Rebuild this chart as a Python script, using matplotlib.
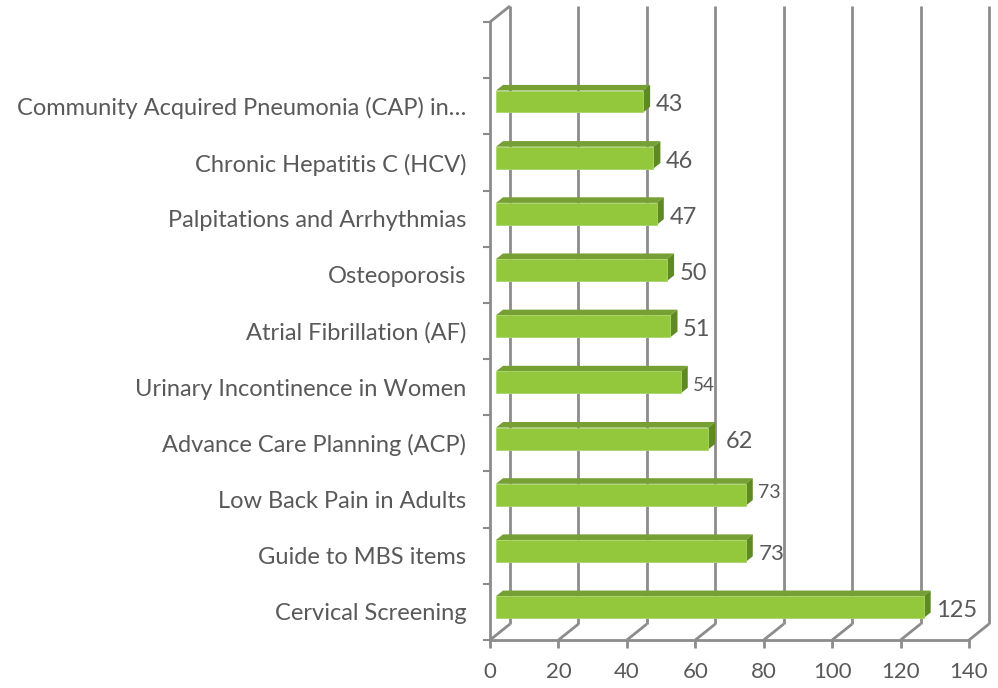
import numpy as np
import matplotlib
matplotlib.use("Agg")
import matplotlib.pyplot as plt
from matplotlib.patches import Polygon

# data, bottom to top as drawn
categories = ["Cervical Screening", "Guide to MBS items", "Low Back Pain in Adults",
              "Advance Care Planning (ACP)", "Urinary Incontinence in Women",
              "Atrial Fibrillation (AF)", "Osteoporosis", "Palpitations and Arrhythmias",
              "Chronic Hepatitis C (HCV)", "Community Acquired Pneumonia (CAP) in\u2026"]
values = [125, 73, 73, 62, 54, 51, 50, 47, 46, 43]
xticks = [0, 20, 40, 60, 80, 100, 120, 140]

plt.rcParams['font.family'] = ['Lato', 'DejaVu Sans']
txt = '#595959'
grid = '#8c8c8c'
front_c, top_c, side_c = '#93c83c', '#76a033', '#5f8a22'

fig = plt.figure(figsize=(9.98, 6.88), dpi=100)
W, H = 998, 688
ax = fig.add_axes([490/W, (H-640)/H, 479/W, 618/H])
ax.set_xlim(0, 140)
ax.set_ylim(-0.5, len(categories) + 0.5)
ax.patch.set_visible(False)

# depth vector (20px right, 16px up) in data units
p0 = ax.transData.transform((0, 0))
p1 = ax.transData.transform((1, 1))
DX = 20 / (p1[0] - p0[0])
DY = 16 / (p1[1] - p0[1])
ybot, ytop = -0.5, len(categories) + 0.5

def at(x, y, d):
    return (x + d*DX, y + d*DY)

lkw = dict(color=grid, lw=2, solid_capstyle='butt', clip_on=False, zorder=1)
# back wall gridlines + floor diagonals
for t in xticks:
    ax.plot(*zip(at(t, ybot, 1), at(t, ytop, 1)), **lkw)
    ax.plot(*zip(at(t, ybot, 0), at(t, ybot, 1)), **lkw)
# left wall top edge
ax.plot(*zip(at(0, ytop, 0), at(0, ytop, 1)), **lkw)

# bars
d0, d1 = 0.3, 0.65
h = 0.39
for i, v in enumerate(values):
    yb, yt = i - h/2, i + h/2
    front = [at(0, yb, d0), at(v, yb, d0), at(v, yt, d0), at(0, yt, d0)]
    top = [at(0, yt, d0), at(v, yt, d0), at(v, yt, d1), at(0, yt, d1)]
    side = [at(v, yb, d0), at(v, yb, d1), at(v, yt, d1), at(v, yt, d0)]
    ax.add_patch(Polygon(top, closed=True, fc=top_c, ec='none', zorder=3, clip_on=False))
    ax.add_patch(Polygon(side, closed=True, fc=side_c, ec='none', zorder=3, clip_on=False))
    ax.add_patch(Polygon(front, closed=True, fc=front_c, ec='#a9d46a', lw=0.6, zorder=4, clip_on=False))

# value labels (some are smaller / shifted in the original)
lab_size = {1: 16, 2: 14, 4: 13.5}
lab_dy = {2: 4}
lab_dx = {3: 8}
for i, v in enumerate(values):
    ax.annotate(str(v), xy=(v + d1*DX, i + d0*DY), xytext=(lab_dx.get(i, 4), lab_dy.get(i, 0) - 1),
                textcoords='offset points', ha='left', va='center_baseline',
                fontsize=lab_size.get(i, 17), color=txt, zorder=5, annotation_clip=False)

for s in ['top', 'right']:
    ax.spines[s].set_visible(False)
for s in ['left', 'bottom']:
    ax.spines[s].set_color(grid)
    ax.spines[s].set_linewidth(2)
    ax.spines[s].set_zorder(2)

ax.set_xticks(xticks)
ax.set_xticklabels([str(t) for t in xticks])
ax.tick_params(axis='x', length=6, width=2, color=grid, labelsize=16, labelcolor=txt, pad=10)

ax.set_yticks(range(len(categories)))
ax.set_yticklabels(categories)
ax.set_yticks(np.arange(-0.5, len(categories) + 0.6, 1), minor=True)
ax.tick_params(axis='y', which='major', length=0, labelsize=17, labelcolor=txt, pad=17)
ax.tick_params(axis='y', which='minor', length=5, width=1.5, color=grid)

fig.savefig('out.png', dpi=100)
